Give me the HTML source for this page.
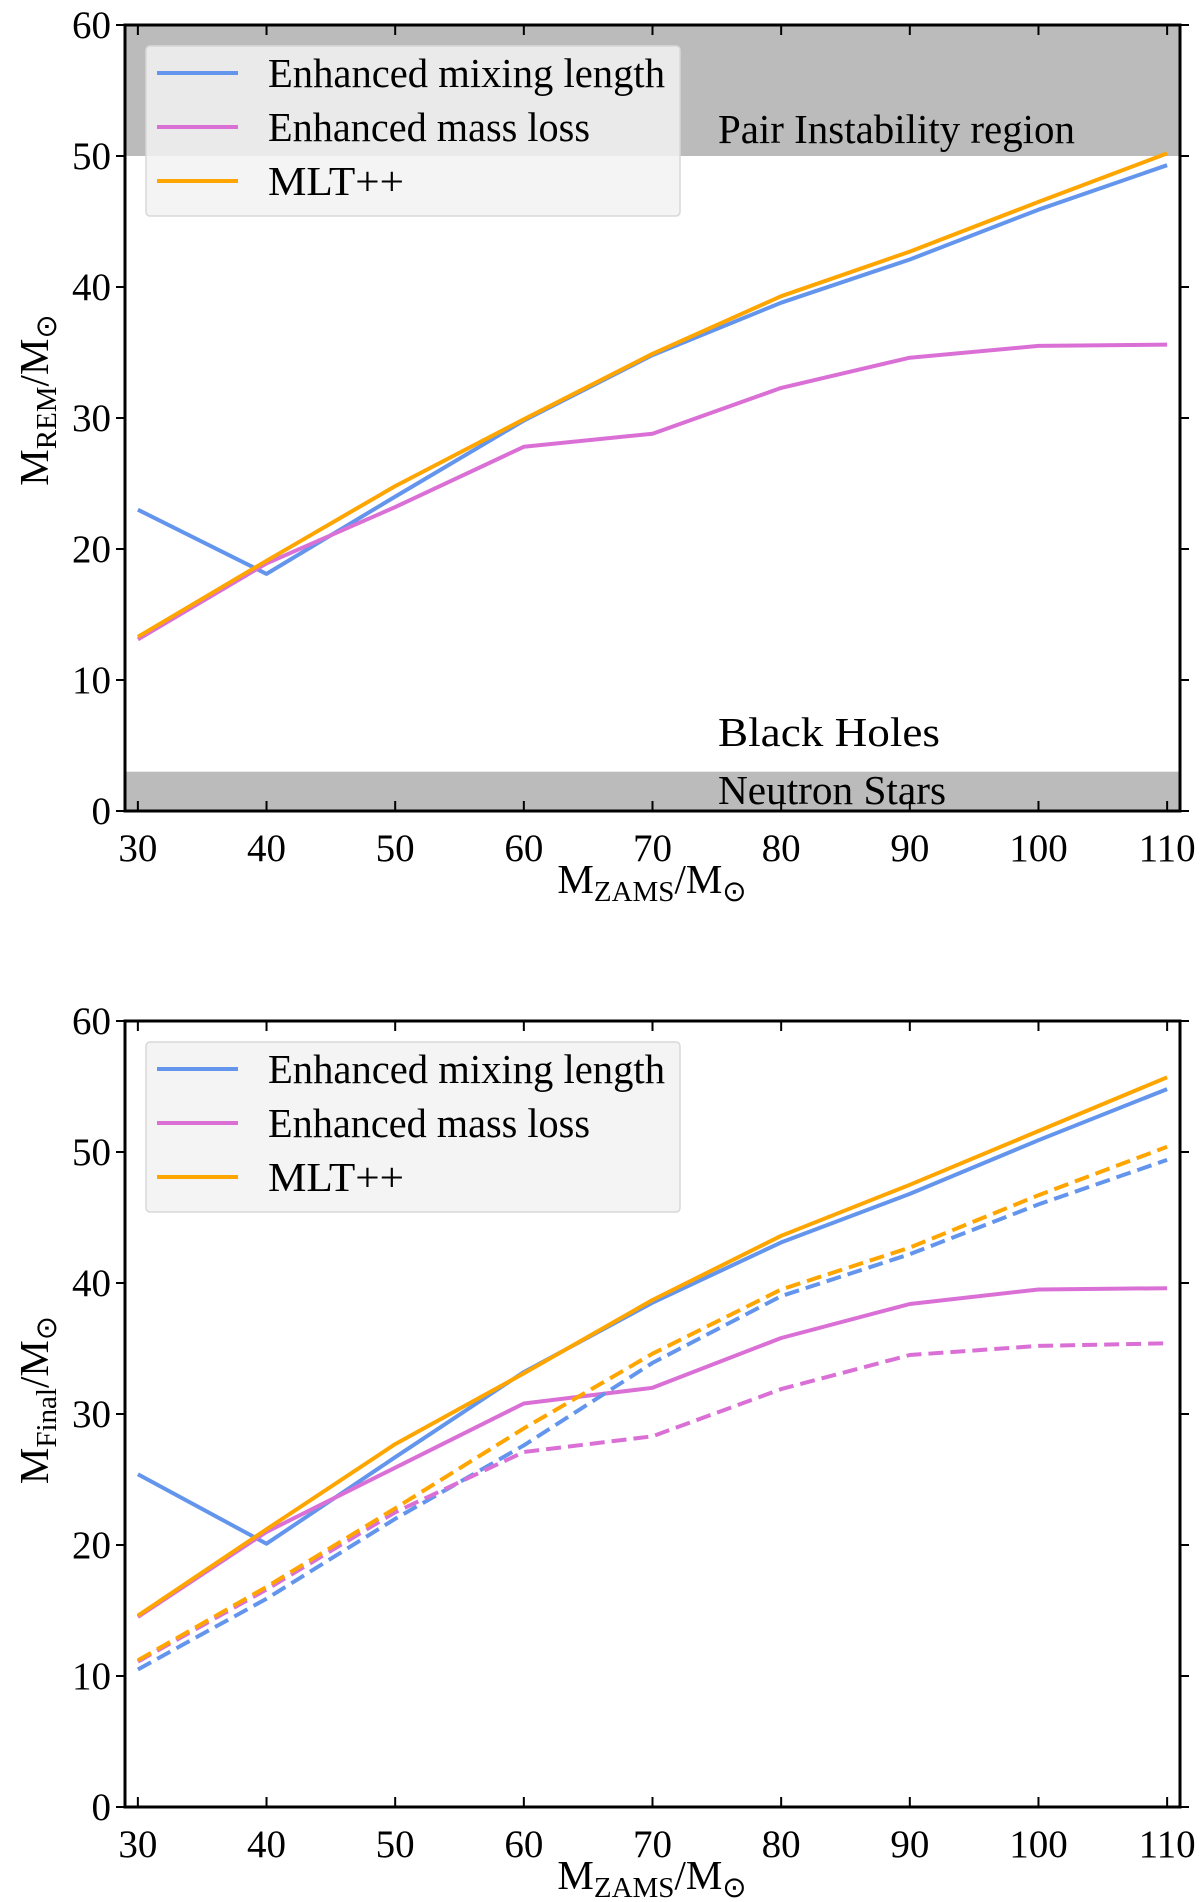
<!DOCTYPE html>
<html><head><meta charset="utf-8"><style>
html,body{margin:0;padding:0;background:#fff;}
svg{display:block;font-family:"Liberation Serif",serif;}
</style></head><body>
<svg id="fig" width="1200" height="1902" viewBox="0 0 1200 1902" xmlns="http://www.w3.org/2000/svg"></svg>
<script>
const xCategories = [30,40,50,60,70,80,90,100,110];
const xTicks = [30,40,50,60,70,80,90,100,110];
const yTicks = [0,10,20,30,40,50,60];
// top panel: remnant masses
const remBlue = [23.0,18.1,24.0,29.8,34.8,38.8,42.1,45.9,49.3];
const remPink = [13.1,18.9,23.2,27.8,28.8,32.3,34.6,35.5,35.6];
const remOrange = [13.3,19.1,24.8,29.9,34.9,39.3,42.7,46.5,50.2];
// bottom panel: final masses (solid) and remnant (dashed)
const finBlue = [25.4,20.1,26.7,33.2,38.5,43.1,46.8,50.9,54.8];
const finPink = [14.5,21.0,25.9,30.8,32.0,35.8,38.4,39.5,39.6];
const finOrange = [14.6,21.2,27.7,33.1,38.7,43.6,47.5,51.6,55.7];
const dashBlue = [10.5,15.9,22.0,27.6,33.9,39.0,42.2,46.0,49.4];
const dashPink = [11.1,16.6,22.5,27.1,28.3,31.9,34.5,35.2,35.4];
const dashOrange = [11.2,16.8,22.8,28.9,34.6,39.5,42.7,46.7,50.4];
const legendLabels = ["Enhanced mixing length","Enhanced mass loss","MLT++"];
const colors = ["#6495ED","#DA70D6","#FFA500"];

const NS = "http://www.w3.org/2000/svg";
const svg = document.getElementById('fig');
function mk(tag, attrs, parent){const e=document.createElementNS(NS,tag);for(const k in attrs)e.setAttribute(k,attrs[k]);(parent||svg).appendChild(e);return e;}

const L=125,R=1180,XMIN=29,XMAX=111;
function xs(v){return L+(v-XMIN)/(XMAX-XMIN)*(R-L);}

function panel(top,bottom,name,ylabelSub,shade,solid,dashed,ylabelY,xlabelY){
  const g=mk('g',{});
  
  
  const ys=v=>bottom-(v/60)*(bottom-top);
  if(shade){
    const s1=mk('rect',{x:L,y:ys(60),width:R-L,height:ys(50)-ys(60),fill:'#bbbbbb'},g);
    
    
    const s2=mk('rect',{x:L,y:ys(3),width:R-L,height:ys(0)-ys(3),fill:'#bbbbbb'},g);
    
    
  }
  const sers=[];
  solid.forEach((d,i)=>sers.push({d,c:colors[i],dash:false,n:'solid-series-'+i}));
  dashed.forEach((d,i)=>sers.push({d,c:colors[i],dash:true,n:'dashed-series-'+i}));
  sers.forEach(s=>{
    const pts=s.d.map((v,i)=>xs(xCategories[i]).toFixed(1)+','+ys(v).toFixed(1)).join(' ');
    const p=mk('polyline',{points:pts,fill:'none',stroke:s.c,'stroke-width':4,'stroke-linejoin':'round'},g);
    if(s.dash)p.setAttribute('stroke-dasharray','15 7');
    
    
  });
  if(shade){
    const t1=mk('text',{x:718,y:ys(60)+118,'font-size':41,textLength:357,lengthAdjust:'spacingAndGlyphs'},g);t1.textContent='Pair Instability region';
    
    const t2=mk('text',{x:718,y:ys(0)-65,'font-size':41,textLength:222,lengthAdjust:'spacingAndGlyphs'},g);t2.textContent='Black Holes';
    
    const t3=mk('text',{x:718,y:ys(0)-7,'font-size':41,textLength:228,lengthAdjust:'spacingAndGlyphs'},g);t3.textContent='Neutron Stars';
    
  }
  const lg=mk('g',{},g);
  
  
  mk('rect',{x:146,y:top+21,width:534,height:170,rx:4,fill:'#f2f2f2','fill-opacity':0.85,stroke:'#d8d8d8','stroke-width':1.5},lg);
  const widths=[397,322,136];
  legendLabels.forEach((lab,i)=>{
    const y=top+48+i*54;
    const ln=mk('line',{x1:157,x2:238,y1:y,y2:y,stroke:colors[i],'stroke-width':4},lg);
    
    const t=mk('text',{x:268,y:y+14,'font-size':41,textLength:widths[i],lengthAdjust:'spacingAndGlyphs'},lg);t.textContent=lab;
    
  });
  const box=mk('rect',{x:L,y:top,width:R-L,height:bottom-top,fill:'none',stroke:'#000','stroke-width':3},g);
  
  xTicks.forEach(v=>{
    const x=xs(v);
    mk('line',{x1:x,x2:x,y1:bottom,y2:bottom-10,stroke:'#000','stroke-width':2},g);
    mk('line',{x1:x,x2:x,y1:top,y2:top+10,stroke:'#000','stroke-width':2},g);
    const t=mk('text',{x:x,y:bottom+50,'font-size':39,'text-anchor':'middle'},g);t.textContent=v;
    
  });
  yTicks.forEach(v=>{
    const y=ys(v);
    mk('line',{x1:L-9,x2:L,y1:y,y2:y,stroke:'#000','stroke-width':2},g);
    mk('line',{x1:R,x2:R+9,y1:y,y2:y,stroke:'#000','stroke-width':2},g);
    const t=mk('text',{x:L-14,y:y+13,'font-size':39,'text-anchor':'end'},g);t.textContent=v;
    
  });
  const yl=mk('text',{x:0,y:0,'font-size':41,'text-anchor':'middle',transform:`translate(48,${ylabelY}) rotate(-90)`},g);
  yl.innerHTML=`M<tspan font-size="29" dy="8">${ylabelSub}</tspan><tspan dy="-8">/M</tspan><tspan font-size="29" dy="8">⊙</tspan>`;
  
  const xl=mk('text',{x:652,y:xlabelY,'font-size':41,'text-anchor':'middle'},g);
  xl.innerHTML='M<tspan font-size="29" dy="8">ZAMS</tspan><tspan dy="-8">/M</tspan><tspan font-size="29" dy="8">⊙</tspan>';
  
}
panel(25,811,'top-panel','REM',true,[remBlue,remPink,remOrange],[],400,893);
panel(1021,1807,'bottom-panel','Final',false,[finBlue,finPink,finOrange],[dashBlue,dashPink,dashOrange],1400,1889);
</script>
</body></html>
